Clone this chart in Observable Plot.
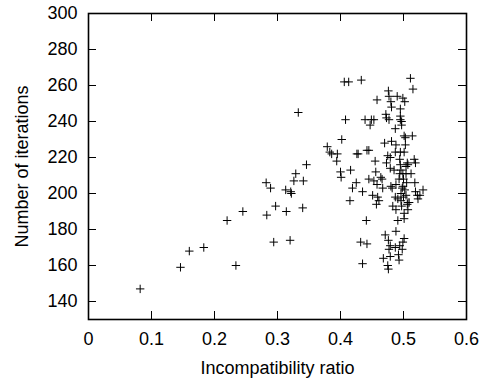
<!DOCTYPE html>
<html>
<head>
<meta charset="utf-8">
<script src="https://cdn.jsdelivr.net/npm/d3@7"></script>
<script src="https://cdn.jsdelivr.net/npm/@observablehq/plot@0.6"></script>
<style>
  html, body { margin: 0; padding: 0; background: #fff; }
  #chart svg { display: block; }
</style>
</head>
<body>
<div id="chart"></div>
<script>
// Incompatibility ratio (x) and number of iterations (y)
const ratio = [
  0.082, 0.146, 0.160, 0.183, 0.220, 0.234, 0.245, 0.282, 0.289, 0.283,
  0.294, 0.297, 0.313, 0.314, 0.321, 0.322, 0.320, 0.329, 0.326, 0.333,
  0.341, 0.340, 0.346, 0.379, 0.383, 0.386, 0.394, 0.395, 0.400, 0.401,
  0.402, 0.408, 0.406, 0.413, 0.416, 0.415, 0.419, 0.426, 0.428, 0.425,
  0.433, 0.435, 0.432, 0.435, 0.441, 0.442, 0.439, 0.445, 0.442, 0.449,
  0.447, 0.453, 0.445, 0.451, 0.453, 0.455, 0.456, 0.458, 0.458, 0.459,
  0.457, 0.461, 0.466, 0.464, 0.467, 0.470, 0.471, 0.468, 0.472, 0.473,
  0.473, 0.475, 0.475, 0.476, 0.476, 0.477, 0.477, 0.480, 0.479, 0.479,
  0.476, 0.477, 0.479, 0.479, 0.481, 0.480, 0.482, 0.485, 0.483, 0.487,
  0.487, 0.488, 0.487, 0.488, 0.488, 0.487, 0.490, 0.488, 0.491, 0.491,
  0.492, 0.493, 0.494, 0.494, 0.495, 0.494, 0.493, 0.495, 0.495, 0.495,
  0.497, 0.497, 0.495, 0.496, 0.496, 0.497, 0.498, 0.499, 0.499, 0.500,
  0.499, 0.498, 0.499, 0.500, 0.501, 0.501, 0.501, 0.501, 0.501, 0.502,
  0.503, 0.503, 0.504, 0.504, 0.504, 0.505, 0.506, 0.506, 0.507, 0.509,
  0.507, 0.511, 0.515, 0.514, 0.512, 0.517, 0.519, 0.518, 0.519, 0.522,
  0.523, 0.526, 0.531, 0.507, 0.502, 0.496, 0.481
];
const iterations = [
  147, 159, 168, 170, 185, 160, 190, 206, 203, 188,
  173, 193, 202, 190, 201, 200, 174, 211, 207, 245,
  207, 192, 216, 226, 223, 222, 218, 222, 212, 209,
  230, 241, 262, 262, 213, 196, 203, 222, 222, 206,
  263, 201, 173, 161, 185, 172, 241, 224, 224, 241,
  238, 241, 208, 199, 207, 218, 212, 252, 205, 198,
  194, 196, 208, 209, 203, 228, 177, 164, 244, 242,
  217, 221, 160, 158, 257, 254, 241, 251, 220, 214,
  174, 169, 165, 171, 248, 204, 203, 213, 193, 236,
  223, 227, 198, 191, 179, 170, 254, 205, 197, 185,
  166, 163, 171, 219, 216, 211, 208, 247, 243, 241,
  240, 238, 223, 200, 196, 193, 169, 173, 253, 208,
  211, 203, 204, 198, 189, 186, 175, 223, 232, 251,
  231, 227, 215, 211, 199, 206, 217, 194, 191, 195,
  216, 264, 258, 232, 211, 219, 217, 206, 201, 199,
  197, 199, 202, 195, 202, 213, 229
];
const xTicks = [0, 0.1, 0.2, 0.3, 0.4, 0.5, 0.6];
const yTicks = [140, 160, 180, 200, 220, 240, 260, 280, 300];
const xTitle = "Incompatibility ratio";
const yTitle = "Number of iterations";

const points = ratio.map((x, i) => ({x, y: iterations[i]}));

const plusSymbol = {
  draw(context, size) {
    const r = Math.sqrt(size / Math.PI);
    context.moveTo(-r, 0); context.lineTo(r, 0);
    context.moveTo(0, -r); context.lineTo(0, r);
  }
};

const W = 483, H = 381;
const mL = 88, mR = 17, mT = 13, mB = 62;
const fw = W - mL - mR, fh = H - mT - mB, tk = 8;

const chart = Plot.plot({
  width: W,
  height: H,
  marginLeft: mL,
  marginRight: mR,
  marginTop: mT,
  marginBottom: mB,
  style: {fontFamily: "'Liberation Sans', Arial, sans-serif", fontSize: "18px", color: "#000", background: "#fff"},
  x: {domain: [0, 0.6]},
  y: {domain: [130, 300]},
  marks: [
    Plot.tickY(yTicks, {y: d => d, insetRight: fw - tk, stroke: "#000"}),
    Plot.tickY(yTicks, {y: d => d, insetLeft: fw - tk, stroke: "#000"}),
    Plot.tickX(xTicks, {x: d => d, insetTop: fh - tk, stroke: "#000"}),
    Plot.tickX(xTicks, {x: d => d, insetBottom: fh - tk, stroke: "#000"}),
    Plot.axisY(yTicks, {anchor: "left", tickSize: 0, tickPadding: 11, tickFormat: d => d, fontSize: 18,
      label: yTitle, labelAnchor: "center", labelOffset: 73, labelArrow: "none"}),
    Plot.axisX(xTicks, {anchor: "bottom", tickSize: 0, tickPadding: 13, tickFormat: d => String(d), fontSize: 18,
      label: xTitle, labelAnchor: "center", labelOffset: 54, labelArrow: "none"}),
    Plot.dot(points, {x: "x", y: "y", symbol: plusSymbol, r: 4.2, fill: "none", stroke: "#000", strokeWidth: 1}),
    Plot.frame({stroke: "#000", strokeWidth: 1.6})
  ]
});
document.getElementById("chart").appendChild(chart);
</script>
</body>
</html>
